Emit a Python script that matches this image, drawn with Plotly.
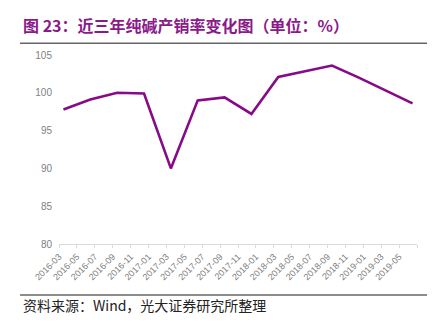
import plotly.graph_objects as go

# Quarterly soda ash production/sales ratio (%)
dates = ["2016-03", "2016-06", "2016-09", "2016-12", "2017-03", "2017-06", "2017-09",
         "2017-12", "2018-03", "2018-06", "2018-09", "2018-12", "2019-03", "2019-06"]
ratio = [97.8, 99.1, 100.0, 99.9, 90.0, 99.0, 99.4,
         97.2, 102.1, 102.9, 103.6, 102.0, 100.3, 98.6]

tick_labels = ["2016-03", "2016-05", "2016-07", "2016-09", "2016-11", "2017-01", "2017-03",
               "2017-05", "2017-07", "2017-09", "2017-11", "2018-01", "2018-03", "2018-05",
               "2018-07", "2018-09", "2018-11", "2019-01", "2019-03", "2019-05", ""]
y_ticks = [80, 85, 90, 95, 100, 105]


def month_index(s):
    y, m = s.split("-")
    return (int(y) - 2016) * 12 + int(m) - 3


# points sit mid-month, ticks at month starts
x_vals = [month_index(d) + 0.5 for d in dates]
tick_pos = [i * 2 for i in range(len(tick_labels))]

W, H = 443, 322
L, R, T, B = 59, 26, 55, 78
PW, PH = W - L - R, H - T - B


def px_x(x):
    return (x - L) / PW


def px_y(y):
    return (H - B - y) / PH


fig = go.Figure()
fig.add_trace(go.Scatter(
    x=x_vals, y=ratio, mode="lines",
    line=dict(color="#870a87", width=2.6),
    hoverinfo="skip", showlegend=False,
))

purple = "#8a1a8a"
fig.update_layout(
    width=W, height=H,
    margin=dict(l=L, r=R, t=T, b=B),
    paper_bgcolor="white", plot_bgcolor="white",
    font=dict(family="Liberation Sans, Arial, sans-serif", color="#7f7f7f", size=10),
    xaxis=dict(
        range=[0, 40], tickmode="array", tickvals=tick_pos, ticktext=tick_labels,
        tickangle=-45, tickfont=dict(size=9, color="#808080"),
        showgrid=False, zeroline=False,
        showline=True, linecolor="#d9d9d9", linewidth=1,
        ticks="outside", ticklen=3, tickcolor="#d9d9d9",
    ),
    yaxis=dict(
        range=[80, 105], tickmode="array", tickvals=y_ticks,
        tickfont=dict(size=10, color="#7f7f7f"),
        showgrid=False, zeroline=False, showline=False, ticks="",
        ticklabelstandoff=6,
    ),
    shapes=[
        dict(type="line", xref="paper", yref="paper",
             x0=px_x(20), x1=px_x(427), y0=px_y(43.3), y1=px_y(43.3),
             line=dict(color="#666666", width=1.5)),
        dict(type="line", xref="paper", yref="paper",
             x0=px_x(20), x1=px_x(427), y0=px_y(295), y1=px_y(295),
             line=dict(color="#666666", width=1.5)),
    ],
    annotations=[
        dict(text="<b>图 23：近三年纯碱产销率变化图（单位：%）</b>",
             xref="paper", yref="paper", x=px_x(21), y=px_y(25),
             xanchor="left", yanchor="middle", showarrow=False,
             font=dict(family="Noto Sans CJK SC, sans-serif", size=16, color=purple)),
        dict(text="资料来源：Wind，光大证券研究所整理",
             xref="paper", yref="paper", x=px_x(21), y=px_y(305),
             xanchor="left", yanchor="middle", showarrow=False,
             font=dict(family="Noto Sans CJK SC, sans-serif", size=14, color="#222222")),
    ],
)

fig.write_html("out.html")
